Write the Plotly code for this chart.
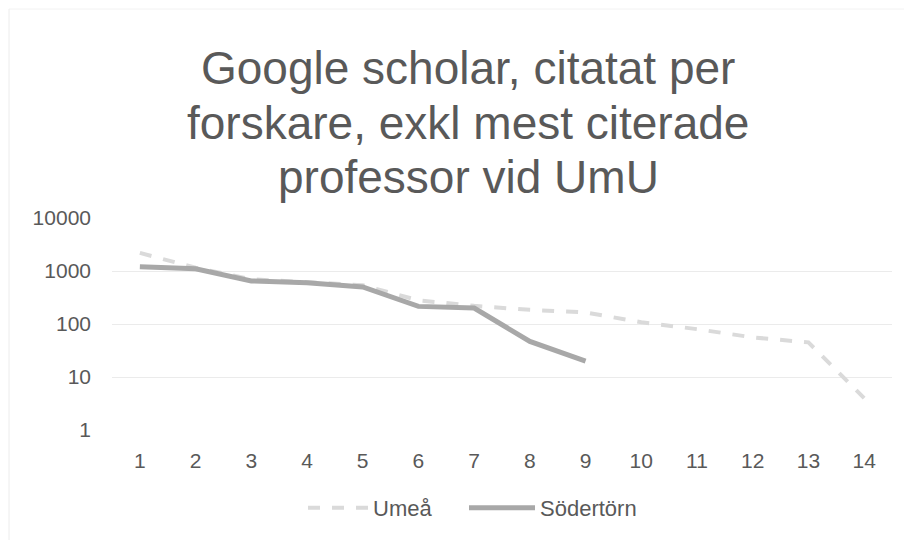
import plotly.graph_objects as go

positions = list(range(1, 15))
umea = [2200, 1150, 700, 620, 540, 280, 220, 185, 165, 108, 80, 56, 45, 4]
sodertorn = [1200, 1100, 650, 600, 500, 215, 200, 47, 20]
y_ticks = [1, 10, 100, 1000, 10000]
title_lines = ["Google scholar, citatat per", "forskare, exkl mest citerade", "professor vid UmU"]

FONT = "Liberation Sans, Arial, sans-serif"
TXT = "#595959"

fig = go.Figure()
fig.add_trace(go.Scatter(
    x=positions[:len(umea)], y=umea, mode="lines", name="Umeå",
    line=dict(color="#dadada", width=4, dash="dash"), legend="legend",
))
fig.add_trace(go.Scatter(
    x=positions[:len(sodertorn)], y=sodertorn, mode="lines", name="Södertörn",
    line=dict(color="#a8a8a8", width=5), legend="legend2",
))

# the page body adds an 8px offset; positions below are screen pixels
OFF = 8
W, H = 912, 540
L = 112 - OFF
T = 218 - OFF
R = W - (892 - OFF)
B = H - (430 - OFF)
plot_h = H - T - B
plot_w = W - L - R

def py(pix):
    return (H - B - (pix - OFF)) / plot_h

def px(pix):
    return ((pix - OFF) - L) / plot_w

for txt, yc in zip(title_lines, [68, 123, 177]):
    fig.add_annotation(
        text=txt, x=px(468), xref="paper", y=py(yc), yref="paper",
        xanchor="center", yanchor="middle", showarrow=False,
        font=dict(family=FONT, size=46, color=TXT),
    )

fig.add_shape(type="line", xref="paper", yref="paper",
              x0=px(9), x1=px(9), y0=py(9), y1=py(560),
              line=dict(color="#ececec", width=1))
fig.add_shape(type="line", xref="paper", yref="paper",
              x0=px(9), x1=px(930), y0=py(9), y1=py(9),
              line=dict(color="#f2f2f2", width=1))

legend_common = dict(orientation="h", xanchor="left", y=py(508), yanchor="middle",
                     font=dict(family=FONT, size=22, color=TXT), bgcolor="rgba(0,0,0,0)")

fig.update_layout(
    width=W, height=H,
    margin=dict(l=L, r=R, t=T, b=B, autoexpand=False),
    paper_bgcolor="white", plot_bgcolor="white",
    font=dict(family=FONT, size=21, color=TXT),
    showlegend=True,
    legend=dict(x=px(303), itemwidth=60, **legend_common),
    legend2=dict(x=px(464), itemwidth=66, **legend_common),
    xaxis=dict(range=[0.5, 14.5], tickvals=positions, ticktext=[str(p) for p in positions],
               showgrid=False, zeroline=False, showline=False, ticks="",
               ticklabelstandoff=16, tickfont=dict(size=21, color=TXT)),
    yaxis=dict(type="log", range=[0, 4], tickvals=y_ticks, ticktext=[str(v) for v in y_ticks],
               showgrid=True, gridcolor="#ebebeb", gridwidth=1, zeroline=False, showline=False,
               ticks="", ticklabelstandoff=20, tickfont=dict(size=21, color=TXT)),
)

fig.write_html("out.html")
